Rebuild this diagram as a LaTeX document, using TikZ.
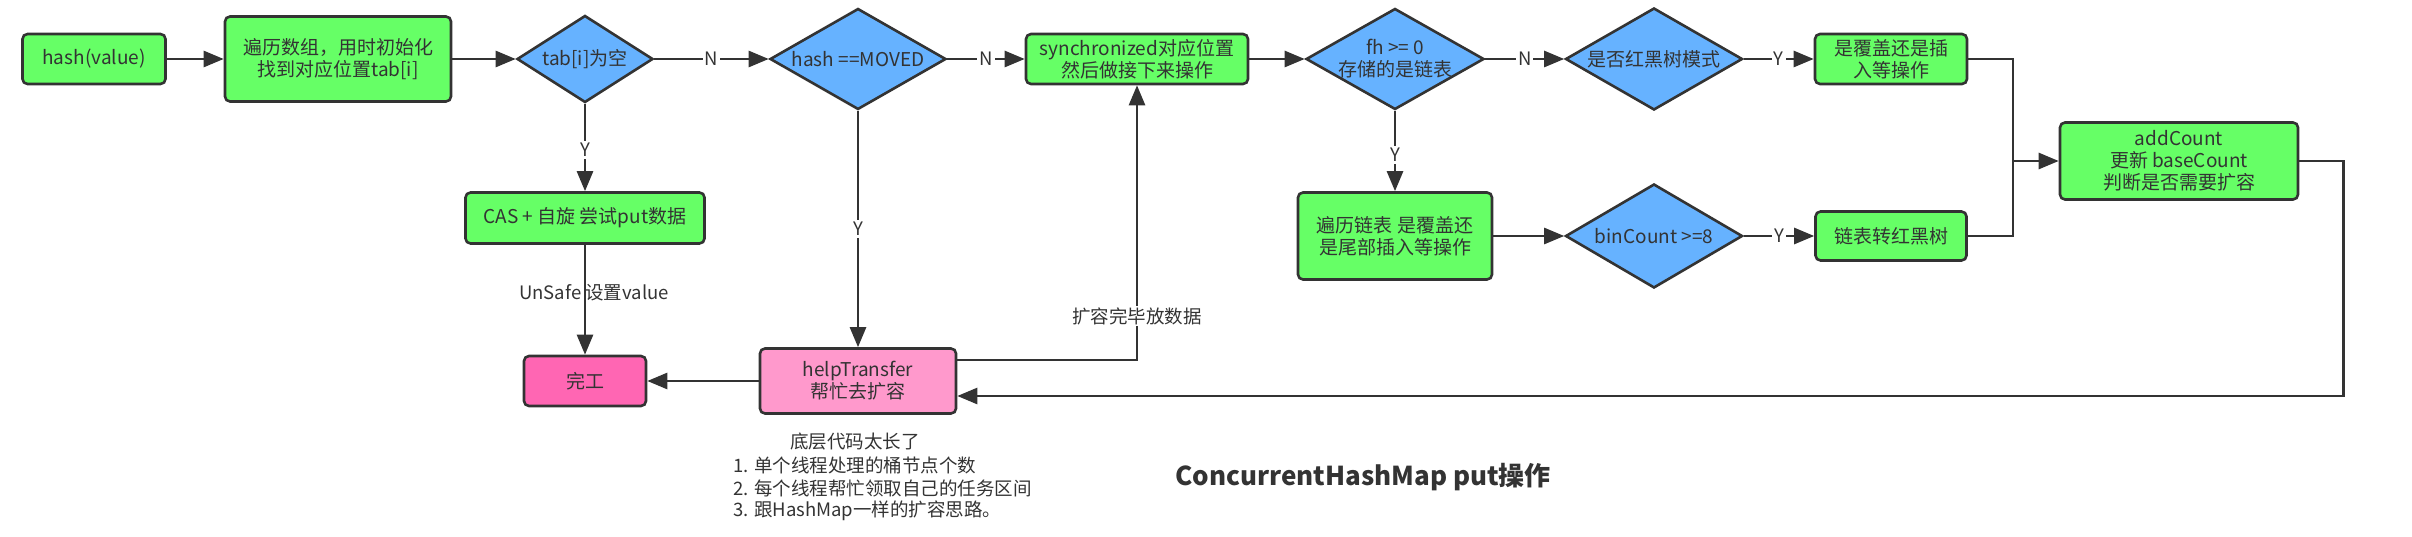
\documentclass[tikz,border=0pt]{standalone}
\usepackage{fontspec}
\setmainfont{Noto Sans CJK SC}
\usetikzlibrary{shapes.geometric,arrows.meta}
\definecolor{gfill}{HTML}{66FF66}
\definecolor{bfill}{HTML}{66B2FF}
\definecolor{pfill}{HTML}{FF66B3}
\definecolor{lpfill}{HTML}{FF99CC}
\definecolor{ink}{HTML}{333333}
\begin{document}
\begin{tikzpicture}[x=1pt,y=-1pt,
  every node/.style={text=ink, font=\fontsize{19}{22}\selectfont},
  box/.style={draw=ink, line width=2.6pt, rounded corners=5pt, inner sep=0pt, align=center},
  gbox/.style={box, fill=gfill},
  dia/.style={diamond, draw=ink, line width=2.6pt, fill=bfill, inner sep=0pt},
  dtext/.style={align=center, inner sep=0pt},
  arr/.style={draw=ink, line width=2.6pt, line join=miter, -{Triangle[length=20pt,width=16pt]}},
  ln/.style={draw=ink, line width=2.6pt},
  lab/.style={fill=white, inner sep=2pt, font=\fontsize{18.5}{22}\selectfont},
  note/.style={inner sep=0pt, font=\fontsize{18.5}{22}\selectfont}
]
\useasboundingbox (0,0) rectangle (2412,537);

% first row
\node[gbox, minimum width=143pt, minimum height=50pt] (hash) at (94,59) {hash(value)};
\node[gbox, minimum width=226pt, minimum height=85pt] (trav) at (338,59) {遍历数组，用时初始化\\找到对应位置tab[i]};
\node[dia, minimum width=136pt, minimum height=87pt, label={[dtext]center:{tab[i]为空}}] (tab) at (585,59) {};
\node[dia, minimum width=176pt, minimum height=101pt, label={[dtext]center:{hash ==MOVED}}] (moved) at (858,59) {};
\node[gbox, minimum width=222pt, minimum height=50pt] (sync) at (1137,59) {synchronized对应位置\\然后做接下来操作};
\node[dia, minimum width=178pt, minimum height=101pt, label={[dtext]center:{fh >= 0\\存储的是链表}}] (fh) at (1395,59) {};
\node[dia, minimum width=177pt, minimum height=102pt, label={[dtext]center:{是否红黑树模式}}] (rb) at (1654,59) {};
\node[gbox, minimum width=152pt, minimum height=50pt] (cover) at (1891,59) {是覆盖还是插\\入等操作};

% right
\node[gbox, minimum width=238pt, minimum height=77pt] (add) at (2179,161) {addCount\\更新 baseCount\\判断是否需要扩容};

% second row
\node[gbox, minimum width=239pt, minimum height=51pt] (cas) at (585,218) {CAS + 自旋 尝试put数据};
\node[gbox, minimum width=194pt, minimum height=87pt] (list) at (1395,236) {遍历链表 是覆盖还\\是尾部插入等操作};
\node[dia, minimum width=177pt, minimum height=104pt, label={[dtext]center:{binCount >=8}}] (bin) at (1654,236) {};
\node[gbox, minimum width=151pt, minimum height=49pt] (conv) at (1891,236) {链表转红黑树};

% third row
\node[box, fill=pfill, minimum width=122pt, minimum height=50pt] (done) at (585,381) {完工};
\node[box, fill=lpfill, minimum width=196pt, minimum height=65pt] (help) at (858,381) {helpTransfer\\帮忙去扩容};

% notes
\node[note] (n0) at (855,442) {底层代码太长了};
\node[note, anchor=west] (n1) at (733,465) {1. 单个线程处理的桶节点个数};
\node[note, anchor=west] (n2) at (733,488) {2. 每个线程帮忙领取自己的任务区间};
\node[note, anchor=west] (n3) at (733,511) {3. 跟HashMap一样的扩容思路。};
\node[inner sep=0pt, font=\fontsize{26}{30}\selectfont\bfseries] (title) at (1363,477) {ConcurrentHashMap put操作};

% connectors
\draw[arr] (hash) -- (trav);
\draw[arr] (trav) -- (tab);
\draw[arr] (tab) -- node[lab]{N} (moved);
\draw[arr] (moved) -- node[lab]{N} (sync);
\draw[arr] (sync) -- (fh);
\draw[arr] (fh) -- node[lab]{N} (rb);
\draw[arr] (rb) -- node[lab]{Y} (cover);
\draw[arr] (tab) -- node[lab, pos=0.53]{Y} (cas);
\draw[arr] (moved) -- node[lab]{Y} (help);
\draw[arr] (fh) -- node[lab, pos=0.55]{Y} (list);
\draw[arr] (list) -- (bin);
\draw[arr] (bin) -- node[lab]{Y} (conv);
\draw[arr] (cas) -- node[note, pos=0.44, xshift=9pt]{UnSafe 设置value} (done);
\draw[arr] (help) -- (done);
\draw[arr] ([yshift=21pt]help.east) -| node[lab, pos=0.58, inner sep=1pt]{扩容完毕放数据} (sync.south);
\coordinate (m) at (2013,161);
\draw[ln] (cover.east) -| (m);
\draw[ln] (conv.east) -| (m);
\draw[arr] (m) -- (add.west);
\draw[arr] (add.east) -- ++(44,0) |- ([yshift=-15pt]help.east);
\end{tikzpicture}
\end{document}
